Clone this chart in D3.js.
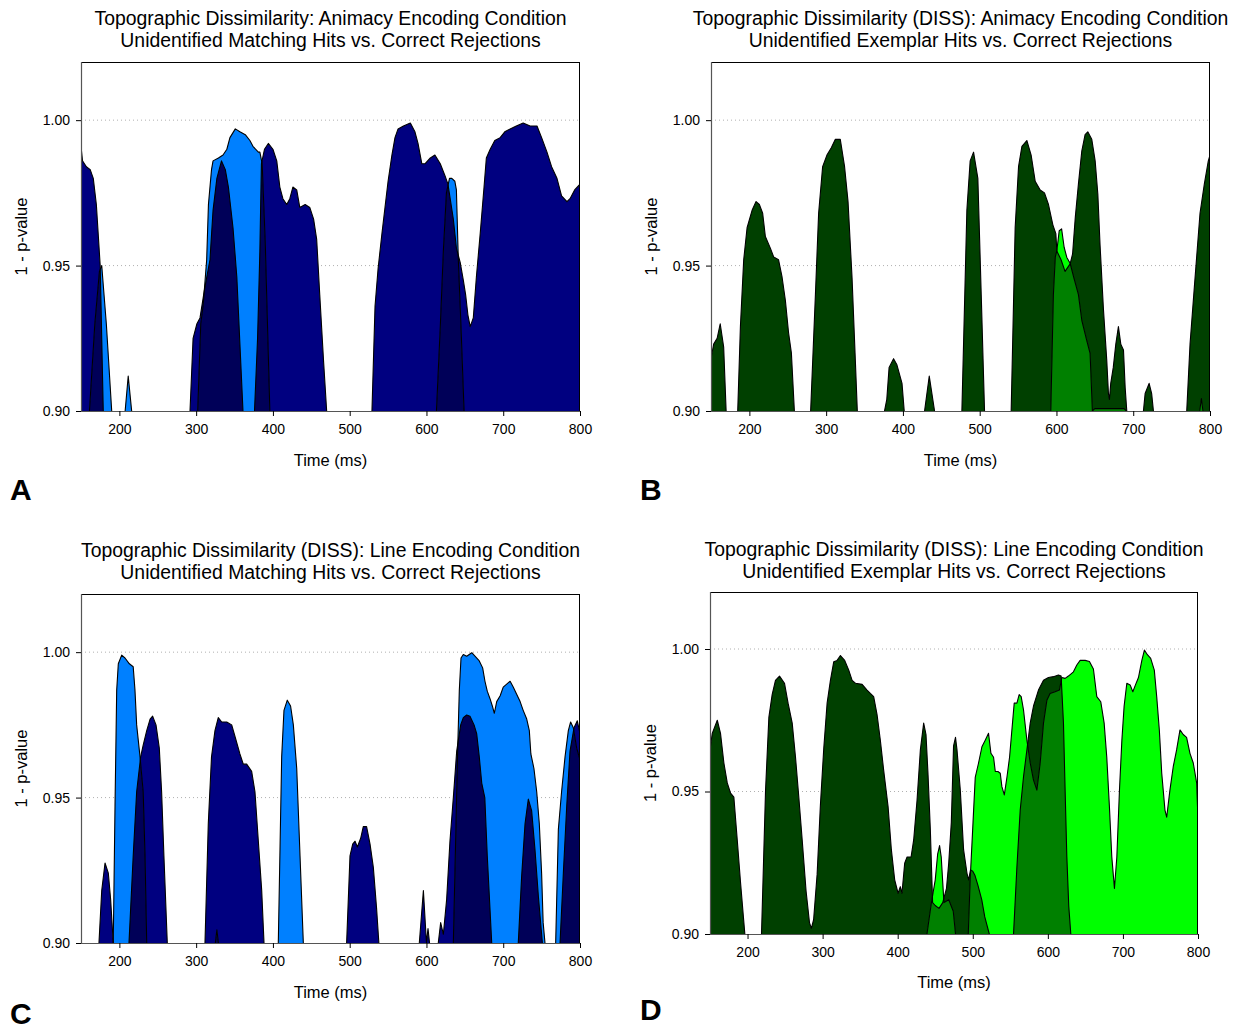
<!DOCTYPE html>
<html><head><meta charset="utf-8">
<script src="https://cdn.jsdelivr.net/npm/d3@7"></script>
<style>body{margin:0;background:#fff}svg{display:block}text{font-family:Arial,"Liberation Sans",sans-serif;fill:#000}</style>
</head><body><svg id="c" width="1240" height="1032"></svg>
<script>
// ---- data: [time (ms), 1 - p-value]; values below 0.90 are off-scale ----
const panelA_s1 = [
[150,0.991],[152,0.986],[157,0.984],[162,0.983],[166,0.980],[170,0.971],[175,0.950],[179,0.90],[181,0.88],
[290,0.88],[292,0.90],[296,0.925],[301,0.930],[305,0.932],[311,0.942],[318,0.952],[322,0.969],[327,0.980],[333,0.986],[338,0.983],[342,0.977],[348,0.963],[353,0.946],[357,0.923],[361,0.90],[364,0.88],
[373,0.88],[376,0.90],[380,0.925],[383,0.955],[385,0.985],[389,0.990],[394,0.992],[400,0.990],[405,0.986],[409,0.977],[413,0.973],[418,0.971],[422,0.973],[426,0.977],[431,0.976],[435,0.970],[442,0.971],[448,0.970],[453,0.966],[457,0.959],[461,0.940],[466,0.917],[470,0.90],[473,0.88],
[526,0.88],[529,0.90],[533,0.936],[537,0.949],[542,0.961],[546,0.970],[550,0.979],[555,0.988],[559,0.994],[563,0.997],[570,0.998],[579,0.999],[585,0.996],[589,0.992],[594,0.985],[598,0.985],[605,0.987],[611,0.988],[618,0.985],[624,0.981],[628,0.978],[635,0.966],[639,0.956],[644,0.951],[648,0.945],[651,0.940],[654,0.933],[657,0.929],[661,0.932],[665,0.946],[670,0.961],[675,0.977],[678,0.987],[683,0.990],[689,0.993],[696,0.994],[702,0.996],[709,0.997],[717,0.998],[726,0.999],[735,0.998],[744,0.998],[750,0.994],[757,0.989],[763,0.984],[770,0.980],[776,0.974],[783,0.972],[787,0.973],[793,0.976],[800,0.978]
];
const panelA_s2 = [
[150,0.88],[158,0.88],[161,0.90],[168,0.93],[174,0.948],[177,0.950],[183,0.93],[190,0.90],[193,0.88],
[205,0.88],[207.5,0.90],[211.5,0.912],[216,0.90],[218,0.88],
[299,0.88],[302,0.90],[306,0.930],[309,0.936],[313.7,0.952],[316,0.971],[320,0.983],[322,0.986],[329,0.987],[335,0.988],[340,0.990],[344,0.994],[351,0.997],[357,0.996],[364,0.995],[370,0.993],[374,0.991],[381,0.989],[383,0.989],[386,0.985],[390,0.958],[396,0.90],[398,0.88],
[611,0.88],[613,0.90],[618,0.929],[622,0.955],[626,0.975],[630,0.980],[633,0.980],[637,0.979],[639,0.976],[641.5,0.952],[645,0.929],[649,0.90],[651,0.88],
[800,0.88]
];
const panelB_s1 = [
[150,0.918],[153.5,0.923],[158,0.925],[162,0.930],[166.5,0.922],[169.7,0.90],[171,0.88],
[183,0.88],[184.8,0.90],[188.3,0.929],[192.6,0.952],[197,0.963],[203.5,0.969],[208.7,0.972],[213,0.971],[217.3,0.968],[220.8,0.960],[227.3,0.956],[231.6,0.953],[238,0.952],[242.6,0.946],[246.9,0.938],[251,0.927],[254.7,0.920],[258.6,0.90],[260,0.88],
[278,0.88],[279.8,0.90],[286,0.940],[290.2,0.968],[295.4,0.984],[301,0.988],[306.7,0.9905],[312,0.9934],[318.4,0.9934],[324,0.984],[328.5,0.972],[333.7,0.946],[338,0.9175],[340.6,0.90],[342,0.88],
[374,0.88],[376,0.90],[379,0.904],[382,0.915],[387.8,0.918],[392,0.916],[398.8,0.9095],[401.7,0.90],[403,0.88],
[426,0.88],[428.2,0.90],[434.3,0.912],[441.2,0.90],[443,0.88],
[475,0.88],[476.8,0.90],[483.3,0.969],[487.6,0.986],[492,0.989],[497.6,0.980],[502,0.940],[506.3,0.90],[508,0.88],
[539,0.88],[541,0.90],[546.2,0.963],[550.6,0.984],[555,0.991],[561.4,0.993],[567,0.988],[572.3,0.979],[578.8,0.976],[584.4,0.975],[589.6,0.971],[595.3,0.964],[599.2,0.961],[600.5,0.955],[606,0.952],[611.2,0.948],[617.8,0.9506],[621,0.954],[624.5,0.9665],[628.6,0.978],[633,0.9894],[637.3,0.995],[640.8,0.996],[646,0.9934],[650.4,0.986],[653.9,0.9745],[656.8,0.957],[661.2,0.935],[665.5,0.9175],[667.7,0.906],[669,0.904],[670.7,0.9095],[674,0.915],[677.3,0.923],[680.7,0.929],[683.8,0.923],[687.3,0.921],[689.5,0.908],[691.6,0.90],[693,0.88],
[711,0.88],[713.3,0.90],[715.5,0.906],[720.7,0.9095],[724,0.906],[726.3,0.90],[728,0.88],
[768,0.88],[769.7,0.90],[774,0.923],[779.6,0.9426],[787,0.968],[792.6,0.978],[797.8,0.986],[800,0.988]
];
const panelB_s2 = [
[150,0.88],[590,0.88],[592.6,0.90],[596,0.940],[598.5,0.953],[600.5,0.9551],[603.6,0.962],[606.7,0.9626],[610,0.9563],[613.5,0.9528],[617.8,0.9508],[622.4,0.946],[628.6,0.940],[633,0.9312],[639.4,0.9243],[643.8,0.9198],[646.8,0.90],[650,0.9008],[688,0.9008],[691,0.90],[693,0.88],
[785,0.88],[786.6,0.90],[788.8,0.9043],[790.8,0.90],[792,0.88],[800,0.88]
];
const panelC_s1 = [
[150,0.88],[171,0.88],[173.4,0.90],[177,0.918],[181.3,0.9275],[185.6,0.924],[188.6,0.915],[192,0.90],[194,0.88],
[210,0.88],[212.5,0.90],[218,0.930],[222.5,0.952],[227.7,0.964],[231,0.968],[235.6,0.973],[240,0.977],[243.3,0.978],[247.7,0.975],[252,0.967],[255,0.952],[258,0.930],[262.4,0.90],[264,0.88],
[309,0.88],[311.5,0.90],[315.8,0.941],[320,0.964],[324.5,0.973],[328.8,0.9775],[333.3,0.976],[339.8,0.976],[346.3,0.975],[350.6,0.971],[357,0.965],[361.4,0.9615],[365.8,0.9615],[372.3,0.959],[376.6,0.952],[381,0.935],[385.4,0.918],[388.4,0.90],[390,0.88],
[494,0.88],[496,0.90],[500.4,0.930],[503.9,0.934],[507,0.935],[510,0.933],[514.3,0.936],[517.7,0.940],[522,0.940],[526.5,0.934],[530.8,0.926],[535,0.912],[538,0.90],[540,0.88],
[589,0.88],[590.7,0.90],[596,0.918],[600,0.90],[602,0.905],[604,0.90],[606,0.88],
[613,0.88],[615.4,0.90],[618.5,0.907],[622,0.903],[626.3,0.915],[630.6,0.935],[635,0.950],[639.4,0.966],[644.6,0.975],[648,0.9775],[652.4,0.9784],[656.7,0.978],[662,0.975],[665.4,0.972],[668.8,0.964],[672,0.955],[676,0.950],[679.2,0.930],[682.7,0.912],[685,0.90],[687,0.88],
[717,0.88],[719.6,0.90],[724,0.923],[728.4,0.941],[732.7,0.9495],[737,0.9455],[741.4,0.932],[745.8,0.916],[751,0.90],[753,0.88],
[772,0.88],[774,0.90],[778.3,0.924],[782.7,0.947],[787,0.966],[792.2,0.974],[796.5,0.9764],[800,0.972]
];
const panelC_s2 = [
[150,0.88],[190,0.88],[192,0.90],[194.3,0.947],[196.5,0.987],[198.6,0.996],[203,0.999],[207.3,0.998],[213,0.996],[218,0.995],[220.3,0.987],[222.5,0.975],[226.9,0.964],[231,0.952],[233.4,0.930],[235.6,0.90],[237,0.88],
[323,0.88],[325,0.90],[327,0.9045],[329,0.90],[331,0.88],
[405,0.88],[407,0.90],[411.4,0.964],[414.4,0.980],[418.7,0.9835],[423,0.9815],[426.6,0.975],[431,0.960],[435.3,0.930],[439.6,0.90],[441,0.88],
[633,0.88],[635,0.90],[638.5,0.941],[640.7,0.967],[642.8,0.987],[645,0.998],[648,0.9992],[652.4,0.9986],[659,0.9998],[663.2,0.9986],[668.8,0.997],[673.2,0.9946],[676.2,0.990],[679.2,0.9866],[682.8,0.984],[685.8,0.9815],[688.4,0.979],[691.5,0.983],[696,0.985],[700,0.988],[704.5,0.989],[709,0.990],[713,0.988],[717.5,0.9855],[722,0.983],[726,0.980],[730.6,0.977],[734,0.973],[736,0.965],[740,0.960],[743.6,0.952],[747,0.941],[750,0.924],[752,0.907],[754.4,0.90],[756,0.88],
[766,0.88],[768.3,0.90],[771.8,0.939],[776,0.952],[780.5,0.964],[784.8,0.973],[787.8,0.976],[791.3,0.974],[795.7,0.967],[800,0.963]
];
const panelD_s1 = [
[150,0.9646],[153,0.9704],[159.7,0.975],[164,0.9704],[168.5,0.960],[173,0.953],[177.4,0.9494],[181.8,0.948],[186.3,0.933],[190.7,0.918],[196.4,0.90],[198,0.88],
[217,0.88],[218.6,0.90],[224,0.9505],[228.4,0.976],[232.8,0.984],[237.2,0.989],[242.6,0.9905],[249.2,0.988],[254,0.981],[259.5,0.974],[263.9,0.962],[268.3,0.948],[272.8,0.933],[278,0.915],[282.5,0.904],[285,0.902],[288,0.905],[292.7,0.921],[297,0.945],[301.5,0.965],[306,0.981],[310.4,0.989],[314.8,0.9955],[319.3,0.996],[323.7,0.9977],[329.4,0.996],[334.8,0.9926],[339.3,0.989],[343.7,0.988],[352.6,0.9876],[359.2,0.9856],[363.6,0.9844],[368,0.9833],[372.5,0.977],[376.9,0.968],[381.3,0.9575],[387.2,0.9447],[391.6,0.9295],[396,0.919],[400.5,0.9143],[403.5,0.9166],[405.7,0.9143],[409.3,0.9248],[412.5,0.927],[417.8,0.927],[421.3,0.933],[425.8,0.947],[430.2,0.9646],[434.6,0.974],[437.7,0.970],[440.4,0.956],[443.5,0.9365],[446.5,0.911],[450,0.910],[455,0.909],[460,0.911],[465,0.916],[468,0.925],[471.4,0.939],[474.4,0.966],[477,0.969],[479,0.9646],[483.4,0.9505],[487.8,0.9295],[492.3,0.9213],[494.5,0.919],[497,0.9225],[500,0.922],[503,0.9205],[507,0.917],[512,0.912],[516,0.906],[522,0.90],[524,0.88],
[552,0.88],[554.3,0.90],[558.8,0.9236],[563.2,0.9435],[567.6,0.9552],[572.1,0.9646],[576.5,0.974],[580.9,0.980],[587.5,0.9856],[594.2,0.989],[600.8,0.990],[607.5,0.9903],[614.1,0.9909],[617.7,0.9905],[620.8,0.974],[623,0.9505],[625.3,0.927],[627.9,0.9096],[630.6,0.90],[633,0.88],[800,0.88]
];
const panelD_s2 = [
[150,0.88],[437,0.88],[439,0.90],[444.8,0.9108],[450,0.919],[453.2,0.928],[455.8,0.931],[458,0.927],[459.8,0.919],[461.6,0.911],[468,0.912],[474,0.908],[477,0.90],[479,0.88],
[492,0.88],[494,0.90],[496.7,0.920],[500.3,0.939],[503.3,0.955],[507.7,0.960],[512.2,0.9657],[516.6,0.968],[521,0.9704],[524.2,0.9634],[527.7,0.962],[530,0.957],[533.5,0.957],[536.6,0.9564],[538.8,0.9517],[542,0.9488],[545.5,0.955],[549,0.962],[552.1,0.9716],[555.2,0.981],[558.8,0.981],[561.8,0.984],[564.5,0.9833],[567.6,0.9786],[572.1,0.968],[576.5,0.960],[580.9,0.954],[585.4,0.9505],[589.8,0.960],[594.2,0.974],[598.7,0.982],[603,0.9844],[609.7,0.985],[615.4,0.9856],[618.6,0.990],[623,0.9897],[627.4,0.9905],[634.1,0.992],[638.6,0.9944],[643,0.996],[649.7,0.996],[655.4,0.9956],[660.7,0.993],[665.2,0.9833],[670.5,0.9815],[675,0.974],[678.5,0.962],[682,0.9447],[685.2,0.927],[688.7,0.916],[691.9,0.927],[695.4,0.9505],[698.6,0.968],[701.6,0.980],[705.2,0.988],[709.6,0.9874],[713.2,0.985],[716.7,0.9874],[720.7,0.990],[725.2,0.996],[728.6,0.9996],[732.6,0.998],[737,0.9967],[741.8,0.9926],[745,0.9833],[748.5,0.9716],[751.7,0.9564],[756,0.9435],[758.3,0.941],[762.6,0.9505],[767,0.9587],[771.5,0.9646],[776,0.9716],[780.3,0.970],[784.8,0.969],[789.3,0.9634],[793.7,0.960],[798.2,0.953],[800,0.940]
];
const xTicks = [200,300,400,500,600,700,800];
const yTicks = [0.90,0.95,1.00];
const gridValues = [0.95,1.00];
const titlesA = ["Topographic Dissimilarity: Animacy Encoding Condition","Unidentified Matching Hits vs. Correct Rejections"];
const titlesB = ["Topographic Dissimilarity (DISS): Animacy Encoding Condition","Unidentified Exemplar Hits vs. Correct Rejections"];
const titlesC = ["Topographic Dissimilarity (DISS): Line Encoding Condition","Unidentified Matching Hits vs. Correct Rejections"];
const titlesD = ["Topographic Dissimilarity (DISS): Line Encoding Condition","Unidentified Exemplar Hits vs. Correct Rejections"];
const xLabel = "Time (ms)";
const yLabel = "1 - p-value";

const blues = {s1:"#000080", s2:"#0080FF", both:"#000058"};
const greens = {s1:"#004000", s2:"#00FF00", both:"#008000"};

const panels = [
  {id:"A", titles:titlesA, s1:panelA_s1, s2:panelA_s2, col:blues,  box:{l:81,r:580,t:62,b:411},  tY:25,  xl:466, letter:[10,500]},
  {id:"B", titles:titlesB, s1:panelB_s1, s2:panelB_s2, col:greens, box:{l:711,r:1210,t:62,b:411}, tY:25, xl:466, letter:[640,500]},
  {id:"C", titles:titlesC, s1:panelC_s1, s2:panelC_s2, col:blues,  box:{l:81,r:580,t:594,b:943}, tY:557, xl:998, letter:[10,1024]},
  {id:"D", titles:titlesD, s1:panelD_s1, s2:panelD_s2, col:greens, box:{l:710,r:1198,t:592,b:934}, tY:556, xl:988, letter:[640,1020]}
];

const svg = d3.select("#c");
const defs = svg.append("defs");

panels.forEach(p => {
  const b = p.box;
  const x = d3.scaleLinear().domain([150,800]).range([b.l,b.r]);
  const y = d3.scaleLinear().domain([0.9,1.02]).range([b.b,b.t]);
  const area = d3.area().x(d=>x(d[0])).y0(y(0.88)).y1(d=>y(d[1]));

  defs.append("clipPath").attr("id","plot-"+p.id)
    .append("rect").attr("x",b.l).attr("y",b.t).attr("width",b.r-b.l).attr("height",b.b-b.t);
  defs.append("clipPath").attr("id","ov-"+p.id)
    .append("path").attr("d",area(p.s2));

  const g = svg.append("g");
  g.selectAll(".grid").data(gridValues).join("line")
    .attr("x1",b.l).attr("x2",b.r).attr("y1",d=>y(d)).attr("y2",d=>y(d))
    .attr("stroke","#b0b0b0").attr("stroke-width",1).attr("stroke-dasharray","1,3");

  const pg = g.append("g").attr("clip-path","url(#plot-"+p.id+")");
  pg.append("path").attr("d",area(p.s1)).attr("fill",p.col.s1);
  pg.append("path").attr("d",area(p.s2)).attr("fill",p.col.s2);
  pg.append("g").attr("clip-path","url(#ov-"+p.id+")")
    .append("path").attr("d",area(p.s1)).attr("fill",p.col.both);
  pg.append("path").attr("d",area(p.s1)).attr("fill","none").attr("stroke","#000").attr("stroke-width",1.1).attr("stroke-linejoin","round");
  pg.append("path").attr("d",area(p.s2)).attr("fill","none").attr("stroke","#000").attr("stroke-width",1.1).attr("stroke-linejoin","round");

  g.append("line").attr("x1",b.l).attr("x2",b.r).attr("y1",b.t+0.5).attr("y2",b.t+0.5).attr("stroke","#000");
  g.append("line").attr("x1",b.r-0.5).attr("x2",b.r-0.5).attr("y1",b.t).attr("y2",b.b).attr("stroke","#000");

  const xa = d3.axisBottom(x).tickValues(xTicks).tickSize(5).tickPadding(8).tickFormat(d3.format("d"));
  const ya = d3.axisLeft(y).tickValues(yTicks).tickSize(5).tickPadding(6).tickFormat(d3.format(".2f"));
  const gx = g.append("g").attr("transform","translate(0,"+b.b+")").call(xa);
  const gy = g.append("g").attr("transform","translate("+b.l+",0)").call(ya);
  [gx,gy].forEach(a=>{
    a.select(".domain").attr("stroke","#555").attr("stroke-width",1.2);
    a.selectAll(".tick line").attr("stroke","#000");
    a.selectAll(".tick text").attr("font-size",14).attr("font-family","Arial, 'Liberation Sans', sans-serif").attr("fill","#000");
  });
  gy.select(".domain").attr("d","M0.5,"+b.t+"V"+b.b);
  gx.select(".domain").attr("d","M"+b.l+",0.5H"+b.r);

  const cx = (b.l+b.r)/2;
  g.selectAll(".title").data(p.titles).join("text")
    .attr("x",cx).attr("y",(d,i)=>p.tY+i*22).attr("text-anchor","middle").attr("font-size",19.4).text(d=>d);
  g.append("text").attr("x",cx).attr("y",p.xl).attr("text-anchor","middle").attr("font-size",16.5).text(xLabel);
  g.append("text").attr("transform","translate("+(b.l-54)+","+((b.t+b.b)/2)+") rotate(-90)")
    .attr("text-anchor","middle").attr("font-size",16.5).text(yLabel);
  g.append("text").attr("x",p.letter[0]).attr("y",p.letter[1]).attr("font-size",30).attr("font-weight","bold").text(p.id);
});
</script></body></html>
